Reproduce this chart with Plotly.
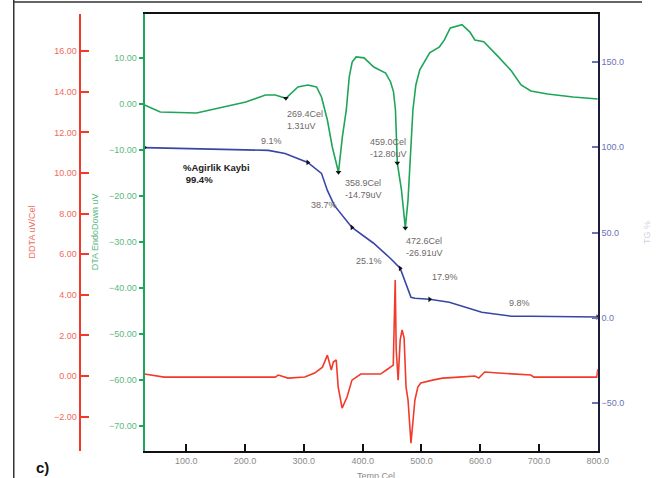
import plotly.graph_objects as go

W, H = 656, 478
PL, PR, PT, PB = 147, 608, 14, 451

# ---------------- data ----------------
tg_temp = [29, 184.5, 239.7, 268.0, 306.6, 330.0, 340.0, 351.8, 368.5, 381.8, 418.6, 447.0,
           463.8, 473.8, 482.2, 488.9, 514.0, 547.4, 602.6, 652.7, 686.0, 800.0]
tg_pct = [99.8, 98.8, 98.2, 96.4, 91.1, 84.7, 74.7, 65.9, 58.9, 53.0, 43.7, 34.9,
          29.0, 20.2, 12.0, 11.4, 10.8, 9.1, 3.2, 0.9, 0.9, 0.4]

dta_temp = [29, 55.8, 117.6, 156.1, 201.2, 234.7, 251.4, 269.4, 289.9, 306.6, 321.6, 330.0,
            340.0, 348.4, 358.9, 365.5, 372.2, 377.2, 382.2, 388.9, 402.3, 419.0, 439.1,
            447.5, 452.5, 455.8, 459.0, 466.0, 472.6, 477.2, 482.2, 485.5, 490.5, 497.2,
            514.0, 530.7, 539.0, 549.1, 569.1, 582.5, 590.9, 606.0, 631.0, 652.8, 669.5,
            686.2, 714.6, 758.0, 800.0]
dta_uv = [-0.15, -1.68, -1.89, -0.8, 0.5, 2.02, 2.02, 1.31, 3.76, 4.2, 3.76, 1.59,
          -3.42, -9.29, -14.79, -7.1, -1.24, 5.94, 9.2, 10.3, 10.1, 8.1, 6.8,
          4.85, 2.7, -1.24, -12.8, -18.6, -26.91, -20.8, -9.9, -1.24, 4.2, 7.5,
          11.2, 12.5, 14.0, 16.6, 17.3, 15.7, 14.0, 13.6, 10.3, 7.3, 4.2,
          2.9, 2.24, 1.59, 1.15]

ddta_temp = [29, 62.4, 251.4, 256.4, 273.1, 301.6, 318.3, 331.7, 340.0, 346.7, 350.1, 355.1,
             358.4, 365.1, 373.5, 381.8, 396.9, 430.3, 440.4, 452.1, 455.4, 457.1, 460.4,
             463.8, 467.1, 470.5, 473.8, 477.2, 482.2, 488.9, 493.9, 498.9, 519.0, 535.7,
             564.1, 590.9, 597.6, 607.6, 631.0, 686.2, 691.2, 798.3, 800.0]
ddta_val = [0.10, -0.05, -0.05, 0.05, -0.10, -0.05, 0.15, 0.44, 1.03, 0.30, 0.69, 0.79,
            -0.54, -1.58, -1.03, -0.20, 0.10, 0.10, 0.30, 0.54, 4.73, 1.28, -0.20,
            1.77, 2.27, 1.87, -0.54, -1.18, -3.30, -1.18, -0.54, -0.34, -0.20, -0.10,
            -0.05, 0.0, -0.10, 0.20, 0.15, 0.05, -0.05, -0.05, 0.34]

dta_event_temp = [269.4, 358.9, 459.0, 472.6]
dta_event_uv = [1.31, -14.79, -12.80, -26.91]
tg_event_temp = [29, 306.6, 381.8, 463.8, 514.0, 800.0]
tg_event_pct = [99.8, 91.1, 53.0, 29.0, 10.8, 0.4]

x_ticks = [100, 200, 300, 400, 500, 600, 700, 800]
dta_ticks = [-70, -60, -50, -40, -30, -20, -10, 0, 10]
ddta_ticks = [-2, 0, 2, 4, 6, 8, 10, 12, 14, 16]
tg_ticks = [-50, 0, 50, 100, 150]

event_labels = ["269.4Cel<br>1.31uV", "358.9Cel<br>-14.79uV", "459.0Cel<br>-12.80uV", "472.6Cel<br>-26.91uV"]
step_labels = ["9.1%", "38.7%", "25.1%", "17.9%", "9.8%"]
total_label = "%Agirlik Kaybi<br> 99.4%"

# ---------------- styling ----------------
GREEN = "#1fa55a"
GREEN_T = "#5cb882"
RED = "#f23a2a"
RED_T = "#f06a5a"
BLUE = "#3846a6"
BLUE_T = "#6a72b4"
TXT = "#6e6868"
FONT = "Liberation Sans, Arial, sans-serif"


def px(x):
    return x / W


def py(y):
    return (PB - y) / (PB - PT)


fig = go.Figure()
fig.add_trace(go.Scatter(x=dta_temp, y=dta_uv, mode="lines", line=dict(color=GREEN, width=1.6),
                         yaxis="y", showlegend=False))
fig.add_trace(go.Scatter(x=ddta_temp, y=ddta_val, mode="lines", line=dict(color=RED, width=1.6),
                         yaxis="y2", showlegend=False))
fig.add_trace(go.Scatter(x=tg_temp, y=tg_pct, mode="lines", line=dict(color=BLUE, width=1.6),
                         yaxis="y3", showlegend=False))
fig.add_trace(go.Scatter(x=dta_event_temp, y=dta_event_uv, mode="markers",
                         marker=dict(symbol="triangle-down", size=5, color="#111"),
                         yaxis="y", showlegend=False))
fig.add_trace(go.Scatter(x=tg_event_temp, y=tg_event_pct, mode="markers",
                         marker=dict(symbol="triangle-right", size=5, color="#111"),
                         yaxis="y3", showlegend=False))

fig.update_layout(
    width=W, height=H,
    margin=dict(l=0, r=0, t=PT, b=H - PB),
    paper_bgcolor="white", plot_bgcolor="white",
    xaxis=dict(domain=[px(PL), px(PR)], range=[29, 800], tickvals=x_ticks, tickformat=".1f",
               ticks="inside", ticklen=7, tickwidth=2, tickcolor="#111",
               showline=True, linecolor="#111", linewidth=2, mirror=True,
               showgrid=False, zeroline=False, tickfont=dict(family=FONT, size=9, color="#8a8a8a")),
    yaxis=dict(range=[-75.44, 19.64], tickvals=dta_ticks, tickformat=".2f", side="left",
               ticks="outside", ticklen=4, tickwidth=2, tickcolor=GREEN,
               showline=True, linecolor=GREEN, linewidth=2,
               showgrid=False, zeroline=False, tickfont=dict(family=FONT, size=9, color=GREEN_T)),
    yaxis2=dict(range=[-3.69, 17.83], tickvals=ddta_ticks, tickformat=".2f", side="left",
                overlaying="y", anchor="free", position=px(81),
                ticks="inside", ticklen=8, tickwidth=2, tickcolor=RED,
                showline=True, linecolor=RED, linewidth=2,
                showgrid=False, zeroline=False, tickfont=dict(family=FONT, size=9, color=RED_T)),
    yaxis3=dict(range=[-78.2, 178.2], tickvals=tg_ticks, tickformat=".1f", side="right",
                overlaying="y", anchor="x",
                ticks="inside", ticklen=6, tickwidth=2, tickcolor=BLUE_T,
                showline=True, linecolor="#1c1c3c", linewidth=2,
                showgrid=False, zeroline=False, tickfont=dict(family=FONT, size=9, color=BLUE_T)),
)

ann = []


def add_text(text, x, y, color=TXT, size=9, bold=False, xanchor="left", yanchor="middle", angle=0):
    if bold:
        text = "<b>" + text.replace("<br>", "</b><br><b>") + "</b>"
    ann.append(dict(text=text, x=px(x), y=py(y), xref="paper", yref="paper", showarrow=False,
                    xanchor=xanchor, yanchor=yanchor, align="left", textangle=angle,
                    font=dict(family=FONT, size=size, color=color)))


# event annotations (left edge, vertical center of two-line block)
add_text(event_labels[0], 290, 120)
add_text(event_labels[1], 349, 189)
add_text(event_labels[2], 374, 148)
add_text(event_labels[3], 411, 247)
# step labels
add_text(step_labels[0], 263, 141)
add_text(step_labels[1], 314, 205)
add_text(step_labels[2], 360, 261)
add_text(step_labels[3], 437, 277)
add_text(step_labels[4], 516, 303)
add_text(total_label, 184, 173, color="#222", size=9.5, bold=True)

# axis titles
add_text("DDTA uV/Cel", 33, 232, color=RED_T, size=9, xanchor="center", angle=-90)
add_text("DTA EndoDown uV", 97, 232, color=GREEN_T, size=9, xanchor="center", angle=-90)
add_text("TG %", 658, 232, color="#d0d0e4", size=9, xanchor="center", angle=-90)
add_text("Temp Cel", 382, 469, color="#8a8a8a", size=9, xanchor="center", yanchor="top")
add_text("c)", 35, 467, color="#111", size=15, bold=True)

fig.update_layout(annotations=ann)

# outer frame lines of the page
fig.add_shape(type="line", xref="paper", yref="paper", x0=px(14), x1=px(14), y0=py(0), y1=py(478),
              line=dict(color="#333", width=1.5))
fig.add_shape(type="line", xref="paper", yref="paper", x0=px(14), x1=px(653), y0=py(2), y1=py(2),
              line=dict(color="#333", width=1.5))

fig.write_html("out.html", config={"displayModeBar": False},
               post_script="document.body.style.margin='0';document.body.style.overflow='hidden';")
